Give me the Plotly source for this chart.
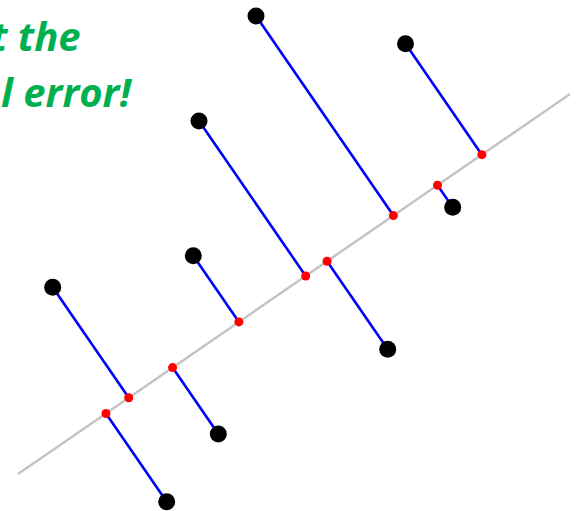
import numpy as np
import plotly.graph_objects as go

# Data points (screen-like units)
pts_x = [256, 405.5, 199, 452.7, 193.3, 52.7, 387.7, 218.3, 166.7]
pts_y = [16, 43.7, 121, 207.3, 255.7, 287.3, 349.3, 434, 501.7]

# Fitted line endpoints
line_x = [18, 570]
line_y = [474, 94]

# Text
text_lines = ["t the", "l error!"]

px = np.array(pts_x); py = np.array(pts_y)
p0 = np.array([line_x[0], line_y[0]], dtype=float)
d = np.array([line_x[1] - line_x[0], line_y[1] - line_y[0]], dtype=float)
t = ((px - p0[0]) * d[0] + (py - p0[1]) * d[1]) / (d @ d)
proj_x = p0[0] + t * d[0]
proj_y = p0[1] + t * d[1]

seg_x, seg_y = [], []
for a, b, c, e in zip(px, py, proj_x, proj_y):
    seg_x += [a, c, None]
    seg_y += [b, e, None]

fig = go.Figure()
fig.add_trace(go.Scatter(x=line_x, y=line_y, mode="lines",
                         line=dict(color="#c4c4c4", width=2.5), hoverinfo="skip"))
fig.add_trace(go.Scatter(x=seg_x, y=seg_y, mode="lines",
                         line=dict(color="#0000ff", width=2.6), hoverinfo="skip"))
fig.add_trace(go.Scatter(x=proj_x, y=proj_y, mode="markers",
                         marker=dict(color="#ff0000", size=9), hoverinfo="skip"))
fig.add_trace(go.Scatter(x=px, y=py, mode="markers",
                         marker=dict(color="#000000", size=17), hoverinfo="skip"))

fig.add_annotation(x=83, y=65, xref="x", yref="y", text="<b><i>%s</i></b>" % text_lines[0],
                   showarrow=False, xanchor="right", yanchor="bottom",
                   font=dict(family="Open Sans", size=40, color="#00b050"))
fig.add_annotation(x=134, y=121, xref="x", yref="y", text="<b><i>%s</i></b>" % text_lines[1],
                   showarrow=False, xanchor="right", yanchor="bottom",
                   font=dict(family="Open Sans", size=40, color="#00b050"))

fig.update_layout(width=576, height=511, margin=dict(l=0, r=0, t=0, b=0),
                  paper_bgcolor="white", plot_bgcolor="white", showlegend=False,
                  xaxis=dict(range=[0, 576], visible=False, fixedrange=True),
                  yaxis=dict(range=[511, 0], visible=False, fixedrange=True))
fig.write_html("out.html", config={"displayModeBar": False},
               post_script="document.body.style.margin='0px';document.body.style.overflow='hidden';")
